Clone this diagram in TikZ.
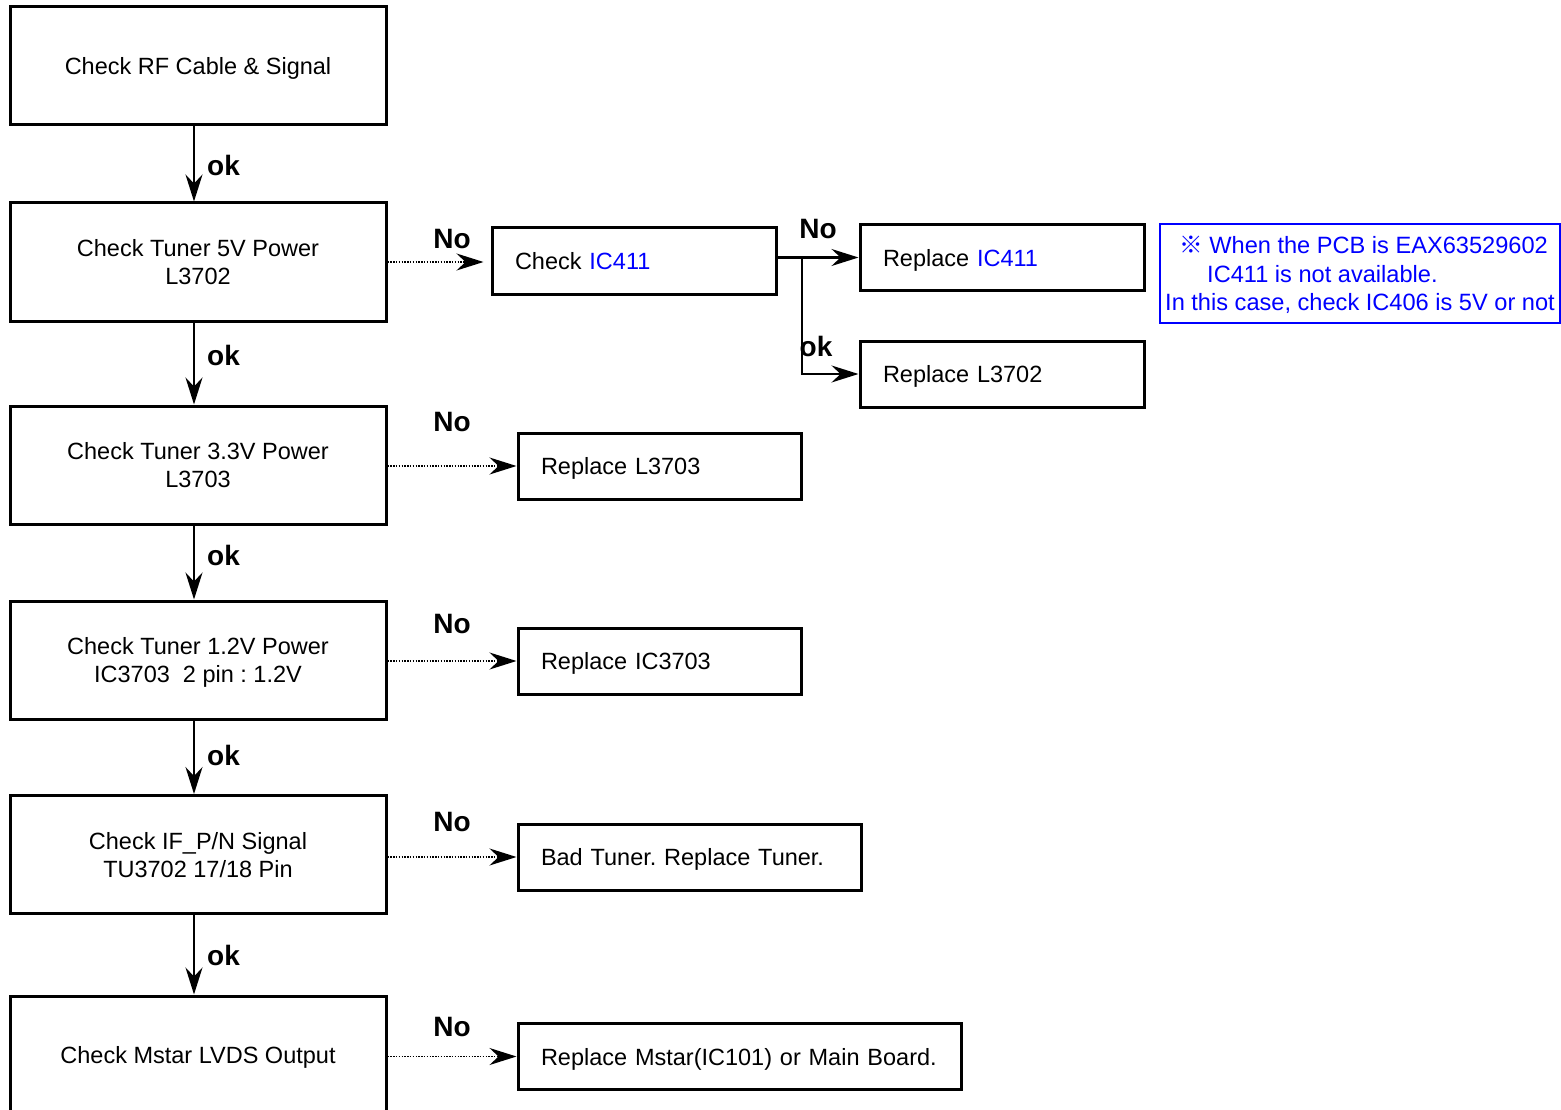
\documentclass[tikz,border=0pt]{standalone}
\usepackage{fontspec}
\setmainfont{Liberation Sans}
\newfontfamily\cjkfont{Noto Sans CJK SC}
\usetikzlibrary{arrows.meta}
\definecolor{noteblue}{RGB}{0,0,255}
\frenchspacing
\begin{document}
\begin{tikzpicture}[x=1pt,y=-1pt,
  font=\fontsize{23.5}{28}\selectfont,
  mainbox/.style={draw,line width=3pt,minimum width=376pt,minimum height=118pt,align=center,inner sep=0pt,text depth=0pt},
  sidebox/.style={draw,line width=3pt,minimum height=66pt,inner ysep=0pt,inner xsep=23pt,align=left,text depth=0pt},
  lbl/.style={font=\fontsize{28}{30}\selectfont\bfseries,inner sep=0pt},
  tip/.style={-{Stealth[length=27pt,width=17pt,inset=9pt]}},
  okarrow/.style={tip,line width=2pt},
  noarrow/.style={tip,line width=1.6pt,dash pattern=on 1.4pt off 1.4pt},
  solidarrow/.style={tip,line width=2pt},
]
\useasboundingbox (0,0) rectangle (1561,1110);
\clip (0,0) rectangle (1561,1110);
\fill[white] (0,0) rectangle (1561,1110);

% main column
\node[mainbox] (b1) at (198,66) {Check RF Cable \& Signal};
\node[mainbox] (b2) at (198,262) {Check Tuner 5V Power\\L3702};
\node[mainbox] (b3) at (198,465) {Check Tuner 3.3V Power\\L3703};
\node[mainbox] (b4) at (198,660) {Check Tuner 1.2V Power\\IC3703\ \ 2 pin : 1.2V};
\node[mainbox] (b5) at (198,854.5) {Check IF\_P/N Signal\\TU3702 17/18 Pin};
\node[mainbox] (b6) at (198,1055) {Check Mstar LVDS Output};

% side boxes
\node[sidebox,minimum width=284pt,text width=238pt] (ic411) at (634,261) {Check \textcolor{noteblue}{IC411}};
\node[sidebox,minimum width=284pt,text width=238pt] (ric411) at (1002,257.5) {Replace \textcolor{noteblue}{IC411}};
\node[sidebox,minimum width=284pt,text width=238pt] (rl3702) at (1002,374) {Replace L3702};
\node[sidebox,minimum width=283pt,text width=237pt] (rl3703) at (659.5,466) {Replace L3703};
\node[sidebox,minimum width=283pt,text width=237pt] (ric3703) at (659.5,661) {Replace IC3703};
\node[sidebox,minimum width=343pt,text width=297pt] (rtuner) at (689.5,857) {Bad Tuner. Replace Tuner.};
\node[sidebox,minimum width=443pt,text width=397pt] (rmstar) at (739.5,1056.5) {Replace Mstar(IC101) or Main Board.};

% note
\node[draw=noteblue,line width=2.2pt,minimum width=400pt,minimum height=99pt,inner sep=0pt,align=left,text=noteblue,text depth=0pt,font=\fontsize{23.6}{28.5}\selectfont] (note) at (1360,273.5)
 {\hspace*{14pt}{\cjkfont ※} When the PCB is EAX63529602\\\hspace*{42pt}IC411 is not available.\\In this case, check IC406 is 5V or not};

% ok arrows
\foreach \a/\b in {b1/b2,b2/b3,b3/b4,b4/b5,b5/b6}{
  \draw[okarrow] ([xshift=-4pt]\a.south) -- ([xshift=-4pt]\b.north);
}
\node[lbl,anchor=west] (ok1) at (207,165) {ok};
\node[lbl,anchor=west] (ok2) at (207,355) {ok};
\node[lbl,anchor=west] (ok3) at (207,555) {ok};
\node[lbl,anchor=west] (ok4) at (207,755) {ok};
\node[lbl,anchor=west] (ok5) at (207,955) {ok};

% No arrows
\coordinate (ic411in) at ([xshift=-7pt]ic411.west);
\draw[noarrow] (b2.east) -- (b2.east -| ic411in);
\draw[noarrow] (b3.east |- rl3703.west) -- (rl3703.west);
\draw[noarrow] (b4.east |- ric3703.west) -- (ric3703.west);
\draw[noarrow] (b5.east |- rtuner.west) -- (rtuner.west);
\draw[noarrow] (b6.east |- rmstar.west) -- (rmstar.west);
\node[lbl] (no1) at (452,239) {No};
\node[lbl] (no2) at (452,422) {No};
\node[lbl] (no3) at (452,624) {No};
\node[lbl] (no4) at (452,822) {No};
\node[lbl] (no5) at (452,1027) {No};

% IC411 branches
\coordinate (br) at (802,257.5);
\draw[line width=2pt] (ic411.east |- br) -- (br);
\draw[solidarrow] (br) -- (ric411.west);
\draw[solidarrow] (br) -- (br |- rl3702.west) -- (rl3702.west);
\node[lbl] (no6) at (818,229) {No};
\node[lbl] (ok6) at (816,346) {ok};
\end{tikzpicture}
\end{document}
